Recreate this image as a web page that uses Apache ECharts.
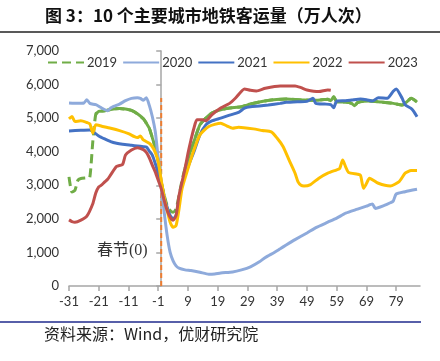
<!DOCTYPE html>
<html><head><meta charset="utf-8">
<script src="https://cdn.jsdelivr.net/npm/echarts@6/dist/echarts.min.js"></script>
<style>html,body{margin:0;padding:0;background:#fff}#c{width:440px;height:361px}</style>
</head><body><div id="c"></div>
<script>
const title = '图 3：10 个主要城市地铁客运量（万人次）';
const source = '资料来源：Wind，优财研究院';
const springLabel = '春节(0)';
const xTicks = [-31,-21,-11,-1,9,19,29,39,49,59,69,79];
const yTicks = [0,1000,2000,3000,4000,5000,6000,7000];
const names = ['2019','2020','2021','2022','2023'];

const days2019 = [-31,-30,-29,-28,-27,-25,-24,-23,-22,-21,-19,-17,-14,-12,-10,-8,-6,-5,-4,-3,-2,-1,0,1,2,3,4,5,6,7,8,9,11,13,15,17,20,23,27,30,33,37,42,48,52,56,57,58,59,62,64,65,66,68,70,74,78,81,83,84,85,86];
const vals2019 = [3250,2800,2850,3150,3200,3220,3240,4300,5120,5200,5220,5260,5290,5270,5230,5130,4980,4850,4700,4420,4130,3720,3100,2700,2400,2250,2200,2300,2700,3150,3500,3800,4300,4800,5000,5150,5250,5300,5340,5420,5480,5540,5570,5540,5530,5560,5520,5640,5490,5480,5440,5370,5460,5500,5510,5480,5440,5390,5520,5590,5550,5480];
const solid2019 = [[-22,1],[8,86]];

const days2020 = [-31,-28,-26,-25,-24,-22,-20,-18,-17,-16,-14,-12,-10,-8,-7,-6,-5,-4,-3,-2,-1,0,1,2,3,4,5,6,8,10,13,16,18,20,24,27,30,33,35,38,40,42,45,49,52,56,59,62,66,69,71,72,75,77,78,79,82,86];
const vals2020 = [5450,5440,5450,5550,5440,5400,5300,5220,5300,5350,5420,5520,5590,5610,5590,5530,5610,5380,5050,4600,3800,3000,2200,1500,1000,750,600,530,480,460,410,350,360,390,420,480,570,720,850,1000,1110,1220,1380,1580,1740,1900,2020,2170,2290,2380,2440,2310,2400,2480,2530,2740,2810,2880];

const days2021 = [-31,-27,-24,-23,-21,-19,-17,-15,-13,-10,-8,-6,-5,-4,-3,-2,-1,0,1,2,3,4,5,6,7,9,11,13,15,17,20,23,26,28,30,33,36,40,42,46,49,51,52,55,57,58,59,62,64,67,69,71,73,76,78,79,81,82,84,85,86];
const vals2021 = [4620,4640,4650,4600,4470,4380,4300,4250,4220,4190,4170,4150,4140,4020,3900,3650,3350,3000,2650,2350,2100,2000,2100,2600,3050,3550,4000,4500,4800,4920,5000,5090,5170,5300,5340,5360,5390,5440,5470,5490,5500,5590,5440,5420,5400,5310,5510,5520,5540,5570,5550,5510,5610,5590,5800,5870,5590,5400,5290,5190,5040];

const days2022 = [-31,-30,-29,-27,-25,-24,-23,-22,-20,-17,-14,-11,-9,-8,-7,-6,-4,-3,-2,-1,0,1,2,3,4,5,6,7,9,11,13,16,20,22,24,26,31,34,37,39,41,43,45,46,47,48,50,53,56,59,60,61,62,63,66,67,68,69,70,73,77,80,82,84,86];
const vals2022 = [4980,5050,4900,4920,4870,4830,4560,4800,4760,4700,4630,4540,4450,4420,4470,4350,4250,4150,3980,3700,3150,2650,2250,1900,1750,1800,2300,2900,3500,4050,4500,4750,4850,4770,4700,4730,4680,4630,4590,4400,4150,3750,3360,3100,3000,2980,3010,3210,3360,3460,3500,3750,3550,3380,3330,3300,2910,3050,3210,3060,2980,3110,3360,3440,3440];

const days2023 = [-31,-30,-29,-27,-25,-23,-22,-21,-20,-19,-18,-17,-15,-13,-12,-10,-8,-6,-5,-4,-3,-2,-1,0,1,2,3,4,5,6,7,8,9,10,11,12,14,15,17,20,23,25,28,30,32,35,40,45,47,49,53,56,57];
const vals2023 = [1970,1920,1900,1960,2080,2450,2770,2950,3010,3100,3180,3310,3560,3620,3900,4050,4120,4060,3980,3820,3600,3400,3150,2900,2550,2250,2050,1960,2100,2700,3100,3500,3950,4350,4700,4950,4950,4920,5100,5300,5440,5600,5870,5830,5810,5890,5960,5960,5910,5840,5790,5840,5830];

const springDay = 0;
const springTop = 5600;

const colors = {'2019':'#70AD47','2020':'#8EAADB','2021':'#4472C4','2022':'#FFC000','2023':'#C0504D'};
const pair = (d, v) => d.map((x, i) => [x, v[i]]);
const lw = 3;

const series = [];
series.push({name:'2019', type:'line', data: pair(days2019, vals2019), symbol:'none', smooth:0.2,
  lineStyle:{color:colors['2019'], width:lw, type:[9,5]}, itemStyle:{color:colors['2019']}});
solid2019.forEach(r => {
  series.push({name:'2019s', type:'line', data: pair(days2019, vals2019).filter(p => p[0] >= r[0] && p[0] <= r[1]),
    symbol:'none', smooth:0.2, lineStyle:{color:colors['2019'], width:lw}, silent:true});
});
[['2020',days2020,vals2020],['2021',days2021,vals2021],['2022',days2022,vals2022],['2023',days2023,vals2023]].forEach(s => {
  series.push({name:s[0], type:'line', data: pair(s[1], s[2]), symbol:'none', smooth:0.2,
    lineStyle:{color:colors[s[0]], width:lw}, itemStyle:{color:colors[s[0]]}});
});
series.push({name:'spring', type:'line', data:[[springDay,0],[springDay,springTop]], symbol:'none',
  lineStyle:{color:'#ED7D31', width:2, type:[5,3]}, silent:true, z:1});

const chart = echarts.init(document.getElementById('c'), null, {renderer:'canvas'});
chart.setOption({
  animation:false,
  backgroundColor:'#fff',
  grid:{left:69, right:20, top:51, bottom:75, containLabel:false},
  legend:{data:names, left:42, top:51, itemWidth:36, itemHeight:14, itemGap:5,
    itemStyle:{opacity:0},
    textStyle:{fontFamily:'Lato', fontSize:13, color:'#333', padding:[0,0,0,-2]}},
  xAxis:{type:'value', min:-31, max:87,
    axisLine:{lineStyle:{color:'#A6A6A6', width:1.5}},
    axisTick:{customValues:xTicks, length:5, lineStyle:{color:'#A6A6A6', width:1.5}},
    axisLabel:{customValues:xTicks, fontFamily:'Lato', fontSize:13, color:'#333', margin:9},
    splitLine:{show:false}},
  yAxis:{type:'value', min:0, max:7000, interval:1000,
    axisLine:{show:true, lineStyle:{color:'#A6A6A6', width:1.5}},
    axisTick:{show:true, length:5, lineStyle:{color:'#A6A6A6', width:1.5}},
    axisLabel:{fontFamily:'Lato', fontSize:13, color:'#333', margin:10,
      formatter: v => v.toLocaleString('en-US')},
    splitLine:{show:false}},
  series: series,
  graphic:[
    {type:'text', left:45, top:7, style:{text:title, font:'bold 17px "Noto Sans CJK SC"', fill:'#111'}},
    {type:'line', shape:{x1:0, y1:32, x2:440, y2:32}, style:{stroke:'#222', lineWidth:1.5}},
    {type:'line', shape:{x1:0, y1:322, x2:421, y2:322}, style:{stroke:'#1F2A8C', lineWidth:1.5}},
    {type:'text', left:44, top:326, style:{text:source, font:'16px "Noto Sans CJK SC"', fill:'#222'}},
    {type:'text', left:97, top:243, style:{text:springLabel, font:'16px "Liberation Serif", "Noto Sans CJK SC"', fill:'#333'}}
  ]
});
</script></body></html>
